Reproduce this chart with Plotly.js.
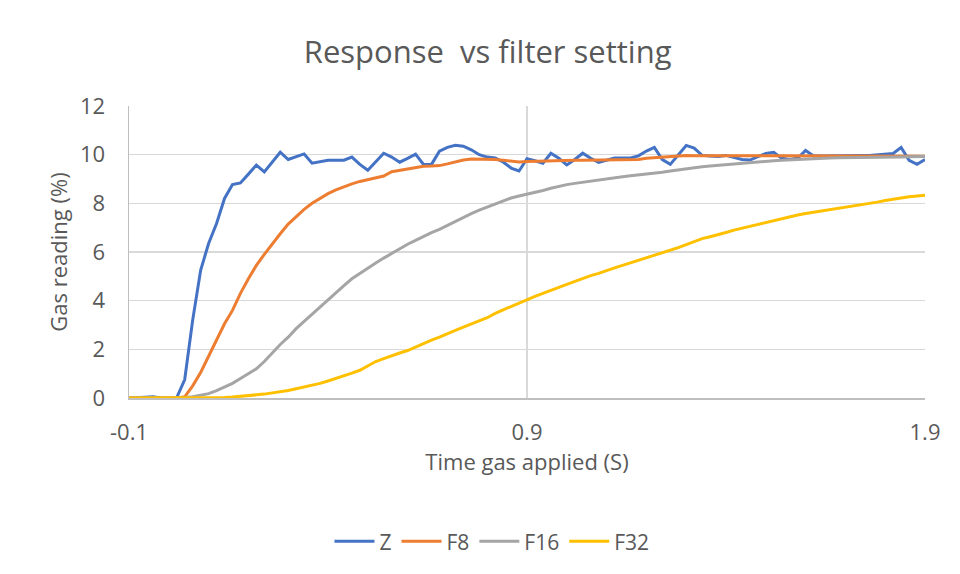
<!DOCTYPE html>
<html>
<head>
<meta charset="utf-8">
<script src="https://cdn.plot.ly/plotly-3.0.1.min.js"></script>
<style>html,body{margin:0;padding:0;background:#fff;}#chart{width:960px;height:574px;}</style>
</head>
<body>
<div id="chart"></div>
<script>
var time = [-0.1,-0.08,-0.06,-0.04,-0.02,0,0.02,0.04,0.06,0.08,0.1,0.12,0.14,0.16,0.18,0.2,0.22,0.24,0.26,0.28,0.3,0.32,0.34,0.36,0.38,0.4,0.42,0.44,0.46,0.48,0.5,0.52,0.54,0.56,0.58,0.6,0.62,0.64,0.66,0.68,0.7,0.72,0.74,0.76,0.78,0.8,0.82,0.84,0.86,0.88,0.9,0.92,0.94,0.96,0.98,1,1.02,1.04,1.06,1.08,1.1,1.12,1.14,1.16,1.18,1.2,1.22,1.24,1.26,1.28,1.3,1.32,1.34,1.36,1.38,1.4,1.42,1.44,1.46,1.48,1.5,1.52,1.54,1.56,1.58,1.6,1.62,1.64,1.66,1.68,1.7,1.72,1.74,1.76,1.78,1.8,1.82,1.84,1.86,1.88,1.9];

var zValues = [0,0,0.03,0.05,0,0,0.02,0.76,3.2,5.25,6.35,7.17,8.2,8.77,8.84,9.2,9.57,9.29,9.7,10.1,9.8,9.9,10.03,9.65,9.72,9.77,9.77,9.77,9.9,9.6,9.36,9.7,10.06,9.9,9.69,9.85,10.02,9.6,9.6,10.14,10.3,10.39,10.35,10.2,10.0,9.9,9.86,9.7,9.45,9.33,9.83,9.75,9.65,10.06,9.85,9.58,9.8,10.06,9.85,9.68,9.78,9.86,9.86,9.86,9.95,10.15,10.3,9.8,9.6,10.0,10.38,10.27,9.97,9.95,9.93,9.97,9.9,9.8,9.78,9.9,10.05,10.1,9.85,9.8,9.85,10.17,9.95,9.95,9.96,9.96,9.96,9.97,9.97,9.97,10.0,10.02,10.05,10.3,9.77,9.6,9.8];

var f8Values = [0,0,0,0,0,0,0,0.05,0.5,1.05,1.7,2.35,3.05,3.6,4.3,4.9,5.45,5.9,6.35,6.75,7.15,7.45,7.75,8.0,8.2,8.4,8.55,8.68,8.8,8.9,8.98,9.06,9.12,9.3,9.35,9.4,9.45,9.52,9.53,9.55,9.62,9.7,9.78,9.82,9.82,9.8,9.8,9.77,9.72,9.7,9.72,9.73,9.75,9.77,9.77,9.77,9.77,9.77,9.77,9.77,9.77,9.78,9.79,9.8,9.8,9.85,9.88,9.9,9.93,9.95,9.97,9.96,9.96,9.96,9.96,9.96,9.96,9.96,9.96,9.96,9.96,9.96,9.96,9.96,9.96,9.96,9.96,9.96,9.96,9.96,9.96,9.95,9.95,9.95,9.95,9.95,9.95,9.95,9.95,9.94,9.94];

var f16Values = [0,0,0,0,0,0,0,0.02,0.05,0.1,0.18,0.3,0.45,0.6,0.8,1.0,1.2,1.5,1.85,2.2,2.5,2.85,3.15,3.45,3.75,4.05,4.35,4.62,4.9,5.12,5.35,5.55,5.75,5.95,6.15,6.32,6.48,6.65,6.8,6.93,7.1,7.27,7.42,7.58,7.72,7.85,7.98,8.12,8.22,8.3,8.37,8.45,8.53,8.62,8.7,8.77,8.82,8.87,8.91,8.96,9.0,9.05,9.09,9.13,9.16,9.2,9.24,9.28,9.33,9.38,9.42,9.46,9.5,9.53,9.56,9.6,9.63,9.66,9.68,9.7,9.73,9.75,9.77,9.79,9.8,9.82,9.83,9.85,9.86,9.87,9.87,9.88,9.88,9.89,9.89,9.9,9.9,9.9,9.91,9.91,9.92];

var f32Values = [0,0,0,0,0,0,0,0,0,0,0,0,0.02,0.04,0.06,0.09,0.13,0.16,0.2,0.25,0.31,0.38,0.45,0.53,0.6,0.7,0.8,0.9,1.02,1.14,1.32,1.5,1.62,1.75,1.85,1.95,2.1,2.25,2.38,2.5,2.65,2.78,2.91,3.05,3.18,3.3,3.48,3.62,3.78,3.92,4.05,4.18,4.3,4.44,4.55,4.67,4.8,4.93,5.03,5.12,5.25,5.35,5.45,5.55,5.65,5.76,5.86,5.97,6.08,6.18,6.3,6.42,6.55,6.63,6.7,6.8,6.9,6.98,7.06,7.14,7.22,7.3,7.38,7.45,7.52,7.58,7.63,7.7,7.75,7.8,7.85,7.9,7.95,8.0,8.05,8.12,8.18,8.22,8.27,8.3,8.33];

var seriesNames = ['Z', 'F8', 'F16', 'F32'];
var seriesColors = ['#4472C4', '#ED7D31', '#A5A5A5', '#FFC000'];
var seriesData = [zValues, f8Values, f16Values, f32Values];

var xTicks = [-0.1, 0.9, 1.9];
var yTicks = [0, 2, 4, 6, 8, 10, 12];

var FONT = '"Open Sans", sans-serif';
var traces = seriesNames.map(function (name, k) {
  return {
    x: time, y: seriesData[k], name: name, type: 'scatter', mode: 'lines',
    line: {color: seriesColors[k], width: 3}
  };
});

var layout = {
  width: 960, height: 574,
  paper_bgcolor: '#ffffff', plot_bgcolor: '#ffffff',
  margin: {l: 129, r: 35, t: 106, b: 176, pad: 0},
  font: {family: FONT, color: '#595959', size: 21},
  title: {text: 'Response\u00a0 vs filter setting', font: {family: FONT, size: 31, color: '#595959'},
          x: 0.508, xanchor: 'center', y: 0.909, yanchor: 'middle'},
  xaxis: {
    range: [-0.1, 1.9], tickvals: xTicks, ticktext: xTicks.map(String),
    showgrid: true, gridcolor: '#d9d9d9', gridwidth: 1.5,
    zeroline: false, showline: true, linecolor: '#bfbfbf', linewidth: 1.5,
    ticks: 'outside', ticklen: 14, tickcolor: 'rgba(0,0,0,0)',
    tickfont: {family: FONT, size: 22, color: '#595959'},
    title: {text: 'Time gas applied (S)', font: {family: FONT, size: 22, color: '#595959'}, standoff: 4}
  },
  yaxis: {
    range: [0, 12], tickvals: yTicks,
    showgrid: true, gridcolor: '#d9d9d9', gridwidth: 1.5,
    zeroline: false, showline: true, linecolor: '#bfbfbf', linewidth: 1.5,
    ticks: 'outside', ticklen: 18, tickcolor: 'rgba(0,0,0,0)',
    tickfont: {family: FONT, size: 22, color: '#595959'},
    title: {text: 'Gas reading (%)', font: {family: FONT, size: 22, color: '#595959'}, standoff: 6}
  },
  showlegend: true,
  legend: {orientation: 'h', x: 0.456, xanchor: 'center', y: -0.492, yanchor: 'middle',
           font: {family: FONT, size: 21, color: '#595959'}, itemwidth: 40, tracegroupgap: 0,
           bgcolor: 'rgba(0,0,0,0)'}
};

Plotly.newPlot('chart', traces, layout, {displayModeBar: false, staticPlot: true});
</script>
</body>
</html>
